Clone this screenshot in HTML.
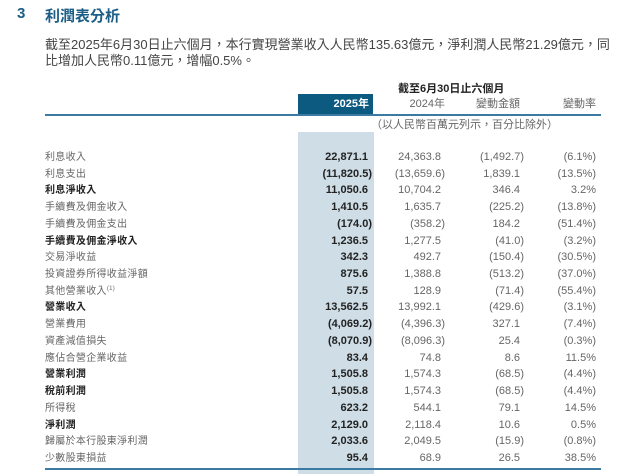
<!DOCTYPE html>
<html><head><meta charset="utf-8"><style>
body{margin:0;width:640px;height:474px;background:#fff;position:relative;overflow:hidden;font-family:"Liberation Sans","Noto Sans CJK TC",sans-serif;}
.a{position:absolute;white-space:nowrap;}
.t{font-size:15px;font-weight:bold;color:#1b5e86;top:5px;}
.p{font-size:13px;color:#444;left:45px;}
.r{position:absolute;left:0;width:640px;height:17px;font-size:11px;line-height:17px;color:#666;}
.r span{position:absolute;top:0;}
.l{left:45px;font-size:10px;letter-spacing:0.3px;}
.c1{right:268px;color:#222;font-weight:bold;}
.c2{right:195px;}
.c3{right:116px;}
.c4{right:44px;}
.np{margin-right:4px;}
.b .l{color:#222;font-weight:bold;}
sup{font-size:6px;line-height:0;vertical-align:4px;}
</style></head><body>
<div class="a t" style="left:17px">3</div>
<div class="a t" style="left:45px">利潤表分析</div>
<div class="a p" style="top:34px">截至2025年6月30日止六個月，本行實現營業收入人民幣135.63億元，淨利潤人民幣21.29億元，同</div>
<div class="a p" style="top:50px">比增加人民幣0.11億元，增幅0.5%。</div>
<div class="a" style="left:398px;top:80px;font-size:11px;font-weight:bold;color:#222">截至6月30日止六個月</div>
<div class="a" style="left:298px;top:94px;width:75px;height:20px;background:#0d5a80"></div>
<div class="a" style="left:298px;top:132px;width:76px;height:342px;background:#cedde6"></div>
<div class="a" style="left:45px;top:114px;width:556px;height:2px;background:#3b7aa3"></div>
<div class="a" style="left:45px;top:468px;width:556px;height:2px;background:#3b7aa3"></div>
<div class="r" style="top:96px"><span style="right:271px;color:#fff;font-weight:bold">2025年</span><span style="right:195px">2024年</span><span style="right:120px">變動金額</span><span style="right:44px">變動率</span></div>
<div class="a" style="left:371px;top:116px;font-size:11px;color:#666">（以人民幣百萬元列示，百分比除外）</div>
<div id="rows"></div>
<script>
var d=[["利息收入","22,871.1","24,363.8","(1,492.7)","(6.1%)",0],
["利息支出","(11,820.5)","(13,659.6)","1,839.1","(13.5%)",0],
["利息淨收入","11,050.6","10,704.2","346.4","3.2%",1],
["手續費及佣金收入","1,410.5","1,635.7","(225.2)","(13.8%)",0],
["手續費及佣金支出","(174.0)","(358.2)","184.2","(51.4%)",0],
["手續費及佣金淨收入","1,236.5","1,277.5","(41.0)","(3.2%)",1],
["交易淨收益","342.3","492.7","(150.4)","(30.5%)",0],
["投資證券所得收益淨額","875.6","1,388.8","(513.2)","(37.0%)",0],
["其他營業收入<sup>(1)</sup>","57.5","128.9","(71.4)","(55.4%)",0],
["營業收入","13,562.5","13,992.1","(429.6)","(3.1%)",1],
["營業費用","(4,069.2)","(4,396.3)","327.1","(7.4%)",0],
["資產減值損失","(8,070.9)","(8,096.3)","25.4","(0.3%)",0],
["應佔合營企業收益","83.4","74.8","8.6","11.5%",0],
["營業利潤","1,505.8","1,574.3","(68.5)","(4.4%)",1],
["稅前利潤","1,505.8","1,574.3","(68.5)","(4.4%)",1],
["所得稅","623.2","544.1","79.1","14.5%",0],
["淨利潤","2,129.0","2,118.4","10.6","0.5%",1],
["歸屬於本行股東淨利潤","2,033.6","2,049.5","(15.9)","(0.8%)",0],
["少數股東損益","95.4","68.9","26.5","38.5%",0]];
var h="";
d.forEach(function(r,i){
 var top=149+i*16.72;
 function c(k,v){var np=v.slice(-1)!=")";return "<span class='"+k+(np?" np":"")+"'>"+v+"</span>";}
 h+="<div class='r"+(r[5]?" b":"")+"' style='top:"+top+"px'><span class='l'>"+r[0]+"</span>"+c("c1",r[1])+c("c2",r[2])+c("c3",r[3])+"<span class='c4'>"+r[4]+"</span></div>";
});
document.getElementById("rows").innerHTML=h;
</script>
</body></html>
